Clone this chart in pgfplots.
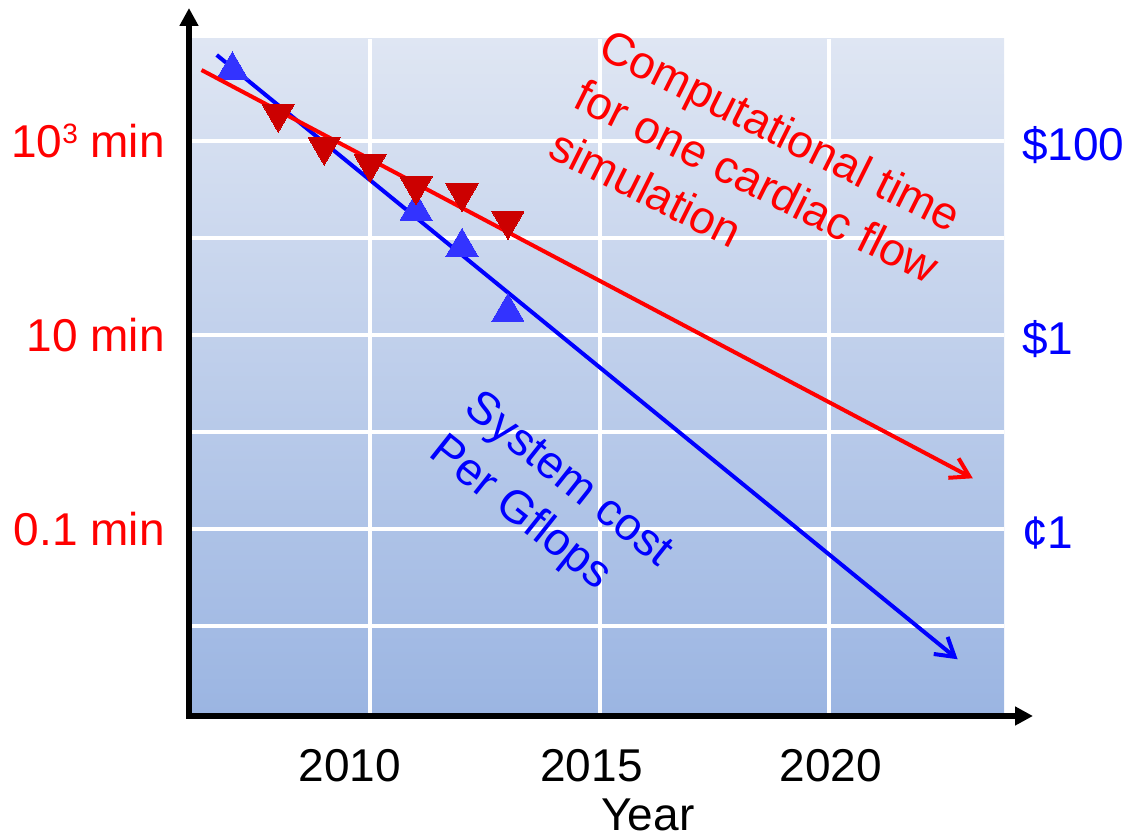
\documentclass[border=0pt]{standalone}
\usepackage{fontspec}
\setmainfont{Liberation Sans}
\usepackage{pgfplots}
\pgfplotsset{compat=1.18}
\usetikzlibrary{arrows.meta}
\definecolor{bgtop}{RGB}{223,230,243}
\definecolor{bgbot}{RGB}{155,181,226}
\definecolor{redm}{RGB}{204,0,0}
\definecolor{bluem}{RGB}{51,51,255}
\newcommand{\bigf}{\fontsize{46}{56}\selectfont}

\begin{document}
\begin{tikzpicture}
% Right axis: system cost per Gflops (dollars)
\begin{axis}[scale only axis, width=813pt, height=674pt,
  at={(191pt,124pt)}, anchor=south west, xmin=2006.1, xmax=2023.8,
  ymode=log, ymin=1.268e-4, ymax=1127.2,
  major tick length=0pt, minor tick length=0pt,
  axis line style={draw=none}, clip=false,
  tick label style={font=\bigf},
  axis background/.style={top color=bgtop, bottom color=bgbot},
  grid=major, grid style={white, line width=4pt},
  xtick={2010,2015,2020}, xticklabels={},
  ytick={1e-3,1e-2,1e-1,1,10,100},
  yticklabels={,¢1,,\$1,,\$100},
  yticklabel pos=right,
  yticklabel style={anchor=base west, inner sep=0pt, xshift=18pt, yshift=-19.5pt, text=blue},
]
\addplot[only marks, color=bluem, mark=triangle*, mark size=18.5pt,
  mark options={solid, fill=bluem, draw=bluem, line width=0pt}] coordinates {
  (2007,537) (2011,19.05) (2012,8.11) (2013,1.73)};
\addplot[blue, line width=4pt, -{Straight Barb[length=18pt,width=22pt]}] coordinates {
  (2006.66,770.5) (2022.79,0.000454)};
\end{axis}
% Left axis: computational time (minutes)
\begin{axis}[scale only axis, width=813pt, height=674pt,
  at={(191pt,124pt)}, anchor=south west, xmin=2006.1, xmax=2023.8,
  ymode=log, ymin=1.268e-3, ymax=11272,
  major tick length=0pt, minor tick length=0pt,
  axis line style={draw=none}, clip=false,
  tick label style={font=\bigf},
  xtick={2009.56,2014.82,2020.03}, xticklabels={2010,2015,2020},
  xticklabel style={anchor=base, inner sep=0pt, yshift=-69pt},
  ytick={1e-2,1e-1,1,10,100,1000},
  yticklabels={,0.1 min,,10 min,,10\raisebox{14pt}{\fontsize{28}{28}\selectfont 3} min},
  yticklabel style={anchor=base east, inner sep=0pt, xshift=-26pt, yshift=-16.5pt, text=red},
  xlabel={Year},
  xlabel style={font=\bigf, at={(axis description cs:0.562,0)}, anchor=base, inner sep=0pt, text depth=0pt, yshift=-118pt},
]
\addplot[only marks, color=redm, mark=triangle*, mark size=18.5pt,
  mark options={solid, fill=redm, draw=redm, line width=0pt, rotate=180}] coordinates {
  (2008,1921) (2009,877) (2010,586) (2011,343) (2012,291) (2013,151)};
\addplot[red, line width=4pt, -{Straight Barb[length=18pt,width=22pt]}] coordinates {
  (2006.33,5395) (2023.12,0.3334)};
\end{axis}
\draw[line width=6pt, {Triangle[length=18pt,width=18pt]}-{Triangle[length=18pt,width=18pt]}]
  (189pt,829pt) -- (189pt,121pt) -- (1033pt,121pt);
\node[text=red, font=\bigf, rotate=-26.5, align=left, inner sep=0pt] at (757pt,656pt)
  {Computational time\\for one cardiac flow\\simulation};
\node[text=blue, font=\bigf, rotate=-38.5, align=left, inner sep=0pt] at (550pt,334pt)
  {System cost\\Per Gflops};
\pgfresetboundingbox
\path[use as bounding box] (0,0) rectangle (1128pt,837pt);
\end{tikzpicture}
\end{document}
